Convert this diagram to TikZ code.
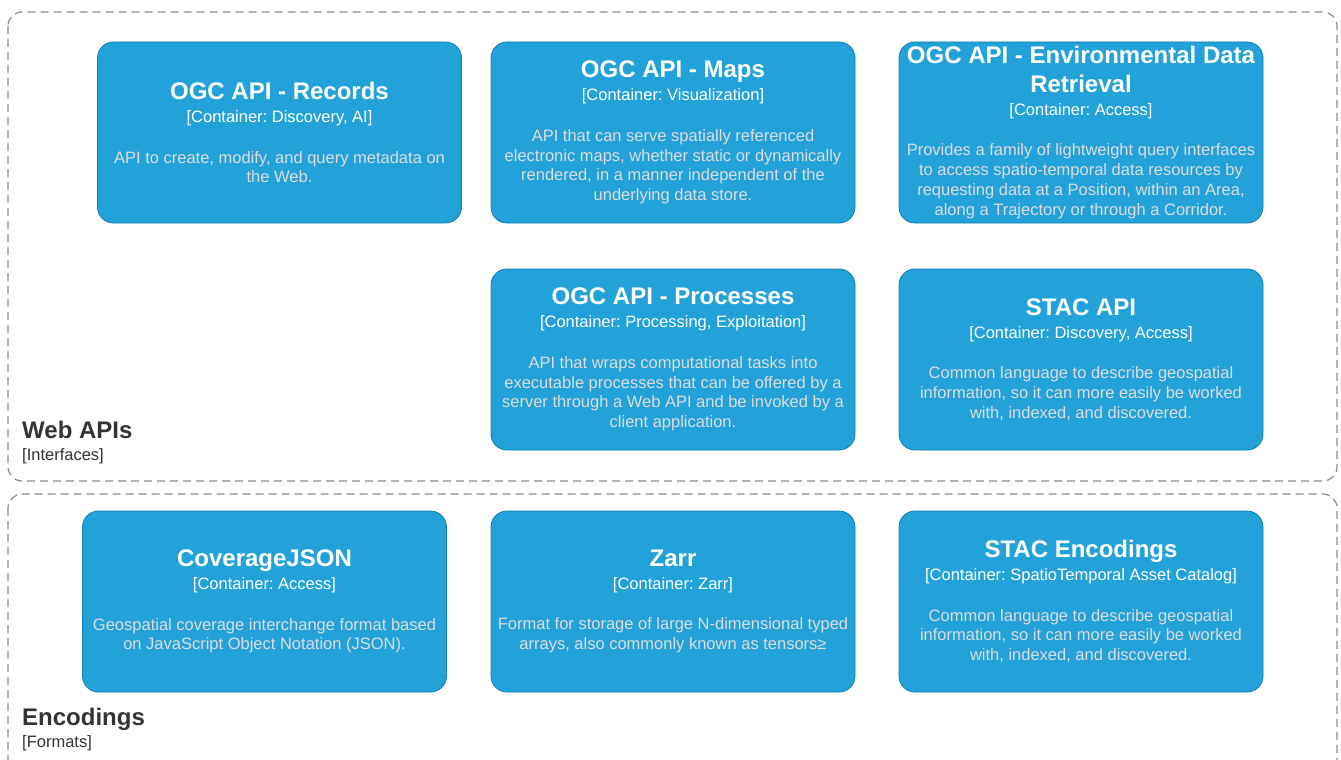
\documentclass[tikz,border=0pt]{standalone}
\usepackage{fontspec}
\setmainfont{Liberation Sans}
\usepackage{xcolor}
\usetikzlibrary{calc}
\frenchspacing

\definecolor{boxfill}{HTML}{23A2D9}
\definecolor{boxline}{HTML}{0E7DAD}
\definecolor{desctext}{HTML}{DDDDDD}
\definecolor{bndline}{HTML}{8A8A8A}
\definecolor{bndtext}{HTML}{333333}
\newcommand{\boxtitle}[1]{{\color{white}\fontsize{24}{28.8}\selectfont\bfseries #1}}
\newcommand{\boxtech}[1]{{\color{white}#1}}
\newcommand{\bndtitle}[1]{{\fontsize{24}{28.8}\selectfont\bfseries #1}}

\begin{document}
\begin{tikzpicture}[x=1pt, y=-1pt,
	container/.style={draw=boxline, fill=boxfill, line width=0.8pt, rounded corners=16pt,
		minimum width=364pt, minimum height=181pt, inner sep=2pt, align=center,
		text=desctext, font=\fontsize{16.5}{19.8}\selectfont},
	boundary/.style={draw=bndline, dash pattern=on 8pt off 5pt, line width=1.2pt, rounded corners=14pt},
	bndlabel/.style={anchor=north west, inner sep=0pt, align=left, text=bndtext,
		font=\fontsize{16.5}{19.8}\selectfont}]
	\clip (0,0) rectangle (1341,760);
	\coordinate (W1) at (8,12);
	\coordinate (W2) at (1337,481);
	\coordinate (E1) at (8,494);
	\coordinate (E2) at (1337,778);
	\draw [boundary] (W1) rectangle (W2);
	\draw [boundary] (E1) rectangle (E2);
	% web apis
	\node [container] (records) at (279.5,132.5) {\boxtitle{OGC API - Records}\\[3pt] \boxtech{[Container: Discovery, AI]}\\[21pt]
		API to create, modify, and query metadata on\\ the Web.};
	\node [container] (maps) at (673,132.5) {\boxtitle{OGC API - Maps}\\[3pt] \boxtech{[Container: Visualization]}\\[21pt]
		API that can serve spatially referenced\\ electronic maps, whether static or dynamically\\
		rendered, in a manner independent of the\\ underlying data store.};
	\node [container] (edr) at (1081,132.5) {\boxtitle{OGC API - Environmental Data}\\[9pt] \boxtitle{Retrieval}\\[3pt]
		\boxtech{[Container: Access]}\\[21pt]
		Provides a family of lightweight query interfaces\\ to access spatio-temporal data resources by\\
		requesting data at a Position, within an Area,\\ along a Trajectory or through a Corridor.};
	\node [container] (processes) at (673,359.5) {\boxtitle{OGC API - Processes}\\[3pt] \boxtech{[Container: Processing, Exploitation]}\\[21pt]
		API that wraps computational tasks into\\ executable processes that can be offered by a\\
		server through a Web API and be invoked by a\\ client application.};
	\node [container] (stacapi) at (1081,359.5) {\boxtitle{STAC API}\\[3pt] \boxtech{[Container: Discovery, Access]}\\[21pt]
		Common language to describe geospatial\\ information, so it can more easily be worked\\
		with, indexed, and discovered.};
	\node [bndlabel] (weblabel) at (22,421) {\bndtitle{Web APIs}\\[2pt] {[Interfaces]}};
	% encodings
	\node [container] (covjson) at (264.5,601.5) {\boxtitle{CoverageJSON}\\[3pt] \boxtech{[Container: Access]}\\[21pt]
		Geospatial coverage interchange format based\\ on JavaScript Object Notation (JSON).};
	\node [container] (zarr) at (673,601.5) {\boxtitle{Zarr}\\[3pt] \boxtech{[Container: Zarr]}\\[21pt]
		Format for storage of large N-dimensional typed\\ arrays, also commonly known as tensors≥};
	\node [container] (stacenc) at (1081,601.5) {\boxtitle{STAC Encodings}\\[3pt] \boxtech{[Container: SpatioTemporal Asset Catalog]}\\[21pt]
		Common language to describe geospatial\\ information, so it can more easily be worked\\
		with, indexed, and discovered.};
	\node [bndlabel] (enclabel) at (22,708) {\bndtitle{Encodings}\\[2pt] {[Formats]}};
\end{tikzpicture}
\end{document}
